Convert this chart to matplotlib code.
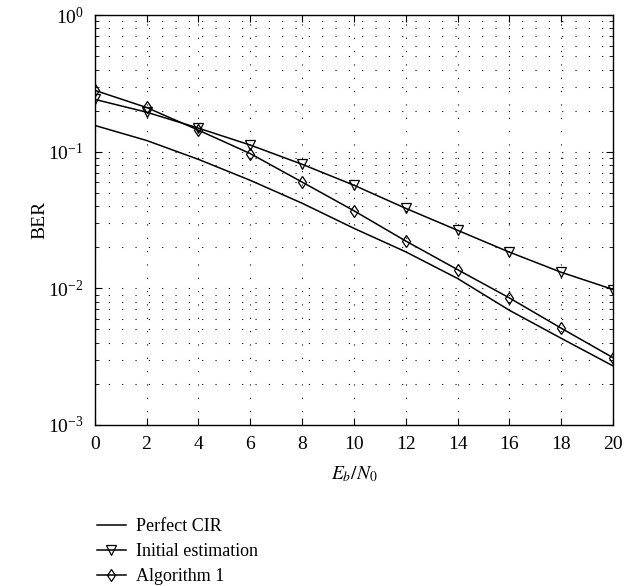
import matplotlib
matplotlib.use('Agg')
import matplotlib.pyplot as plt
from matplotlib.ticker import LogLocator, NullFormatter

plt.rcParams['font.family'] = ['Liberation Serif', 'DejaVu Serif']
plt.rcParams['mathtext.fontset'] = 'stix'

snr = [0, 2, 4, 6, 8, 10, 12, 14, 16, 18, 20]
perfect_cir = [0.156, 0.121, 0.088, 0.0618, 0.042, 0.0275, 0.0185, 0.0118, 0.0069, 0.0043, 0.0027]
initial_est = [0.242, 0.195, 0.149, 0.112, 0.081, 0.0569, 0.0385, 0.0266, 0.0184, 0.0131, 0.0098]
algorithm1 = [0.282, 0.211, 0.144, 0.097, 0.060, 0.037, 0.0222, 0.0137, 0.0085, 0.0051, 0.0031]

fig = plt.figure(figsize=(6.4, 5.86), dpi=100)
ax = fig.add_axes([0.148, 0.275, 0.81, 0.699])

ax.semilogy(snr, perfect_cir, color='black', lw=1.1, label='Perfect CIR')
ax.semilogy(snr, initial_est, color='black', lw=1.1, marker='v', ms=7,
            mfc='none', mec='black', mew=0.9, label='Initial estimation')
ax.semilogy(snr, algorithm1, color='black', lw=1.1, marker='d', ms=6,
            mfc='none', mec='black', mew=0.9, label='Algorithm 1')

ax.set_xlim(0, 20)
ax.set_ylim(1e-3, 1)
ax.set_xticks(snr)
ax.yaxis.set_major_locator(LogLocator(base=10, numticks=10))
ax.yaxis.set_minor_locator(LogLocator(base=10, subs=range(2, 10), numticks=10))
ax.yaxis.set_minor_formatter(NullFormatter())

# sparse dotted grid like the original
dots = (0, (1, 11))
ax.grid(True, which='major', axis='x', ls=dots, color='black', lw=0.8)
ax.grid(True, which='both', axis='y', ls=dots, color='black', lw=0.8)

ax.tick_params(which='both', direction='in', top=True, right=True, labelsize=14)
ax.tick_params(which='major', length=5, pad=8)
ax.tick_params(which='minor', length=3)
for s in ax.spines.values():
    s.set_linewidth(1.0)

ax.set_xlabel(r'$E_b/N_0$', fontsize=14, labelpad=8)
ax.set_ylabel('BER', fontsize=14, labelpad=0)

fig.legend(loc='upper left', bbox_to_anchor=(0.151, 1 - 518 / 586),
           bbox_transform=fig.transFigure, frameon=False, fontsize=13,
           handlelength=1.6, labelspacing=0.45, borderaxespad=0,
           borderpad=0, handletextpad=0.6)

fig.savefig('out.png', dpi=100)
